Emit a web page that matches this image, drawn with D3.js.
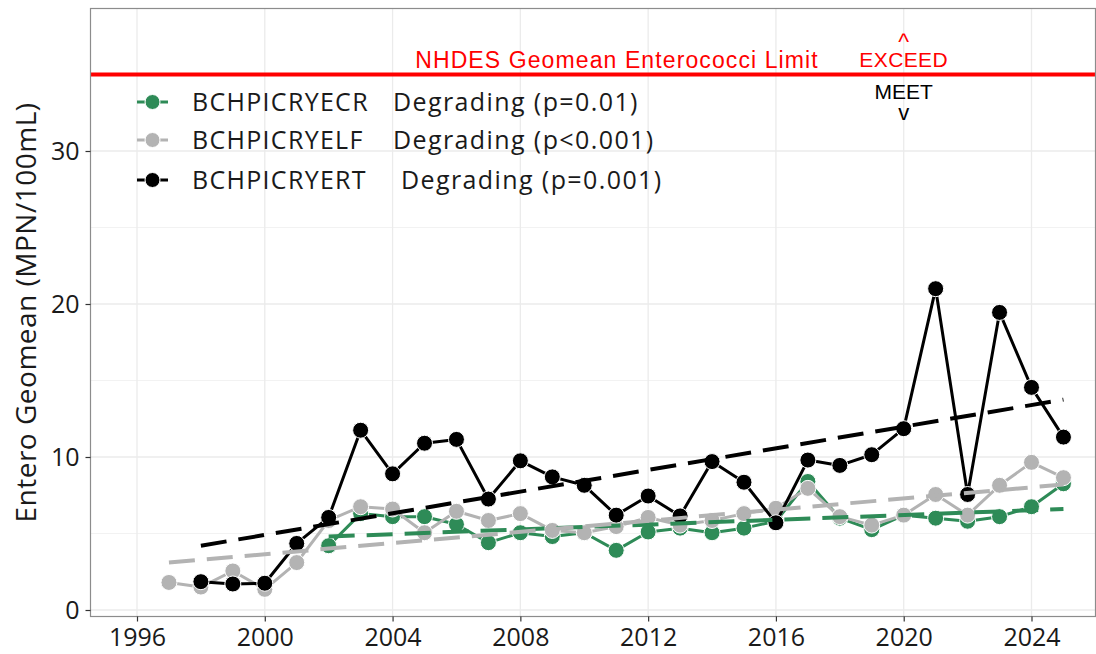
<!DOCTYPE html>
<html>
<head>
<meta charset="utf-8">
<script src="https://cdn.jsdelivr.net/npm/d3@7"></script>
<style>
  body { margin: 0; background: #fff; }
  svg text { font-family: "Open Sans", sans-serif; }
</style>
</head>
<body>
<div id="chart"></div>
<script>
var W = 1096, H = 654;

// yearly geomeans
var yearsECR = d3.range(2002, 2026);
var valsECR = [4.2, 6.3, 6.1, 6.1, 5.6, 4.4, 5.05, 4.8, 5.05, 3.9, 5.1, 5.35, 5.05, 5.35,
               5.8, 8.4, 6.0, 5.25, 6.2, 6.0, 5.8, 6.1, 6.75, 8.25];
var yearsELF = d3.range(1997, 2026);
var valsELF = [1.8, 1.5, 2.55, 1.35, 3.1, 5.85, 6.75, 6.6, 5.05, 6.45, 5.85, 6.3, 5.2, 5.05,
               5.45, 6.05, 5.55, 5.85, 6.3, 6.65, 7.95, 6.1, 5.55, 6.2, 7.55, 6.2, 8.15, 9.65, 8.65];
var yearsERT = d3.range(1998, 2026);
var valsERT = [1.85, 1.7, 1.75, 4.35, 6.05, 11.75, 8.9, 10.9, 11.15, 7.25, 9.75, 8.7, 8.15,
               6.2, 7.45, 6.15, 9.7, 8.35, 5.7, 9.8, 9.45, 10.15, 11.85, 21.0, 7.55, 19.45, 14.55, 11.3];

// trend lines: [start year, start value, end year, end value]
var trendECR = [[2002, 4.8], [2025, 6.6]];
var trendELF = [[1997, 3.1], [2025, 8.2]];
var trendERT = [[1998, 4.2], [2025, 13.75]];

var seriesNames = ["BCHPICRYECR", "BCHPICRYELF", "BCHPICRYERT"];
var trendLabels = ["Degrading (p=0.01)", "Degrading (p<0.001)", "Degrading (p=0.001)"];
var colors = ["#2e8b57", "#b3b3b3", "#000000"];

var xTicks = [1996, 2000, 2004, 2008, 2012, 2016, 2020, 2024];
var yTicks = [0, 10, 20, 30];
var yMinor = [5, 15, 25, 35];
var limit = 35;

var x = d3.scaleLinear().domain([1996, 2024]).range([137, 1031.5]);
var y = d3.scaleLinear().domain([0, 30]).range([610, 151]);

var panel = {left: 90.5, right: 1095.5, top: 8.5, bottom: 616.5};

var svg = d3.select("#chart").append("svg")
    .attr("width", W).attr("height", H);

svg.append("rect").attr("width", W).attr("height", H).attr("fill", "#fff");

// grid
var grid = svg.append("g");
grid.selectAll(".ymin").data(yMinor).enter().append("line")
    .attr("x1", panel.left).attr("x2", panel.right)
    .attr("y1", function(d) { return y(d); }).attr("y2", function(d) { return y(d); })
    .attr("stroke", "#f2f2f2").attr("stroke-width", 1);
grid.selectAll(".ymaj").data(yTicks).enter().append("line")
    .attr("x1", panel.left).attr("x2", panel.right)
    .attr("y1", function(d) { return y(d); }).attr("y2", function(d) { return y(d); })
    .attr("stroke", "#ebebeb").attr("stroke-width", 1.3);
grid.selectAll(".xmaj").data(xTicks).enter().append("line")
    .attr("y1", panel.top).attr("y2", panel.bottom)
    .attr("x1", function(d) { return x(d); }).attr("x2", function(d) { return x(d); })
    .attr("stroke", "#ebebeb").attr("stroke-width", 1.3);

// limit line + labels
svg.append("line")
    .attr("x1", panel.left).attr("x2", panel.right)
    .attr("y1", y(limit)).attr("y2", y(limit))
    .attr("stroke", "#ff0000").attr("stroke-width", 4);

var ann = svg.append("g").attr("text-anchor", "middle");
function annText(tx, ty, size, col, s, sp) {
  ann.append("text").attr("x", tx).attr("y", ty)
      .attr("font-size", size).attr("fill", col)
      .attr("letter-spacing", sp || 0)
      .style("font-family", "'Liberation Sans', Arial, sans-serif")
      .text(s);
}
annText(617, y(limit) - 7, 23, "#ff0000", "NHDES Geomean Enterococci Limit", 1.1);
annText(x(2020), y(limit) - 8, 21, "#ff0000", "EXCEED", 0.4);
annText(x(2020), y(limit) - 25, 23, "#ff0000", "^");
annText(x(2020), y(limit) + 24, 21, "#000", "MEET");
annText(x(2020), y(limit) + 45, 22, "#000", "v");

// series
var series = [
  {years: yearsECR, vals: valsECR, trend: trendECR, color: colors[0]},
  {years: yearsELF, vals: valsELF, trend: trendELF, color: colors[1]},
  {years: yearsERT, vals: valsERT, trend: trendERT, color: colors[2]}
];

var line = d3.line()
    .x(function(d) { return x(d[0]); })
    .y(function(d) { return y(d[1]); });

series.forEach(function(s) {
  var pts = s.years.map(function(yr, i) { return [yr, s.vals[i]]; });
  svg.append("path").datum(pts)
      .attr("fill", "none").attr("stroke", s.color)
      .attr("stroke-width", 3).attr("stroke-linejoin", "round")
      .attr("d", line);
  svg.append("g").selectAll("circle").data(pts).enter().append("circle")
      .attr("cx", function(d) { return x(d[0]); })
      .attr("cy", function(d) { return y(d[1]); })
      .attr("r", 8)
      .attr("fill", s.color).attr("stroke", "#fff").attr("stroke-width", 1);
});

series.forEach(function(s) {
  svg.append("path").datum(s.trend)
      .attr("fill", "none").attr("stroke", s.color)
      .attr("stroke-width", 4).attr("stroke-dasharray", "26,12")
      .attr("d", line);
});

// panel border
svg.append("rect")
    .attr("x", panel.left).attr("y", panel.top)
    .attr("width", panel.right - panel.left).attr("height", panel.bottom - panel.top)
    .attr("fill", "none").attr("stroke", "#8c8c8c").attr("stroke-width", 1.2);

// axes
var xAxis = svg.append("g")
    .attr("transform", "translate(0," + panel.bottom + ")")
    .call(d3.axisBottom(x).tickValues(xTicks).tickFormat(d3.format("d")).tickSize(5).tickPadding(7));
var yAxis = svg.append("g")
    .attr("transform", "translate(" + panel.left + ",0)")
    .call(d3.axisLeft(y).tickValues(yTicks).tickSize(5).tickPadding(6));
[xAxis, yAxis].forEach(function(a) {
  a.select(".domain").remove();
  a.selectAll(".tick line").attr("stroke", "#333").attr("stroke-width", 1.2);
  a.selectAll("text").attr("fill", "#1a1a1a").attr("font-size", 25)
      .style("font-family", "'Open Sans', sans-serif");
});

svg.append("text")
    .attr("transform", "translate(36," + ((panel.top + panel.bottom) / 2) + ") rotate(-90)")
    .attr("text-anchor", "middle")
    .attr("font-size", 28).attr("fill", "#1a1a1a")
    .attr("letter-spacing", 0.5)
    .text("Entero Geomean (MPN/100mL)");

// legend
var legY = [102, 140, 180];
var legTextX = [393, 393, 401];
var leg = svg.append("g");
series.forEach(function(s, i) {
  var g = leg.append("g").attr("transform", "translate(0," + legY[i] + ")");
  g.append("line").attr("x1", 137).attr("x2", 168).attr("y1", 0).attr("y2", 0)
      .attr("stroke", s.color).attr("stroke-width", 3).attr("stroke-dasharray", "8,15,8");
  g.append("circle").attr("cx", 152.5).attr("cy", 0).attr("r", 7.5)
      .attr("fill", s.color).attr("stroke", "#fff").attr("stroke-width", 1);
  g.append("text").attr("x", 192).attr("y", 9).attr("font-size", 25)
      .attr("letter-spacing", 1.3)
      .attr("fill", "#1a1a1a").text(seriesNames[i]);
  g.append("text").attr("x", legTextX[i]).attr("y", 9).attr("font-size", 25)
      .attr("letter-spacing", 1.4)
      .attr("fill", "#1a1a1a").text(trendLabels[i]);
});
</script>
</body>
</html>
